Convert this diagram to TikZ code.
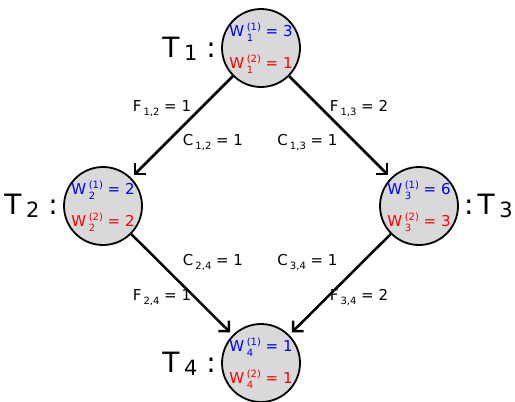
\documentclass[tikz,border=0pt]{standalone}
\usepackage{fontspec}
\setmainfont{DejaVu Sans}
\usepackage{xcolor}
\usetikzlibrary{arrows.meta}
\definecolor{nodegray}{HTML}{D9D9D9}
\newcommand{\subsup}[2]{\rlap{\raisebox{-0.3em}{\fontsize{10}{10}\selectfont #1}}\raisebox{0.45em}{\fontsize{10}{10}\selectfont (#2)}}
\newcommand{\wline}[3]{W\,\subsup{#1}{#2} = #3}
\newcommand{\tsub}[1]{T\,\raisebox{-3pt}{\fontsize{21}{21}\selectfont #1}}
\newcommand{\esub}[3]{#1\hspace{2pt}\raisebox{-4pt}{\fontsize{10}{10}\selectfont #2} = #3}

\begin{document}
\begin{tikzpicture}[x=1pt,y=-1pt,
  task/.style={circle,draw=black,line width=1.8pt,fill=nodegray,minimum size=78pt,
               inner sep=-6pt,align=center,font=\fontsize{15}{32}\selectfont},
  tname/.style={font=\fontsize{28}{30}\selectfont,inner sep=0pt},
  elab/.style={font=\fontsize{15}{16}\selectfont,inner sep=0pt,anchor=base},
  ar/.style={-{Straight Barb[length=7.5pt,width=15pt]},line width=2.5pt,shorten >=3.5pt}
]
\useasboundingbox (0,0) rectangle (515,402);

\node[task] (t1) at (261,48)  {\textcolor{blue}{\wline{1}{1}{3}}\\\textcolor{red}{\wline{1}{2}{1}}};
\node[task] (t2) at (103,206) {\textcolor{blue}{\wline{2}{1}{2}}\\\textcolor{red}{\wline{2}{2}{2}}};
\node[task] (t3) at (419,206) {\textcolor{blue}{\wline{3}{1}{6}}\\\textcolor{red}{\wline{3}{2}{3}}};
\node[task] (t4) at (261,363) {\textcolor{blue}{\wline{4}{1}{1}}\\\textcolor{red}{\wline{4}{2}{1}}};

\node[tname,anchor=base east] (n1) at (216,57)  {\tsub{1} :};
\node[tname,anchor=base east] (n2) at (58,214)  {\tsub{2} :};
\node[tname,anchor=base west] (n3) at (464,214) {:\hspace{4pt}\tsub{3}};
\node[tname,anchor=base east] (n4) at (216,372) {\tsub{4} :};

\draw[ar] (t1) -- (t2);
\draw[ar] (t1) -- (t3);
\draw[ar] (t2) -- (t4);
\draw[ar] (t3) -- (t4);

\node[elab] (f12) at (162,111)   {\esub{F}{1,2}{1}};
\node[elab] (c12) at (213,145)   {\esub{C}{1,2}{1}};
\node[elab] (f13) at (359,111)   {\esub{F}{1,3}{2}};
\node[elab] (c13) at (307.5,145) {\esub{C}{1,3}{1}};
\node[elab] (c24) at (213,265)   {\esub{C}{2,4}{1}};
\node[elab] (c34) at (307.5,265) {\esub{C}{3,4}{1}};
\node[elab] (f24) at (162,300)   {\esub{F}{2,4}{1}};
\node[elab] (f34) at (359,300)   {\esub{F}{3,4}{2}};
\end{tikzpicture}
\end{document}
